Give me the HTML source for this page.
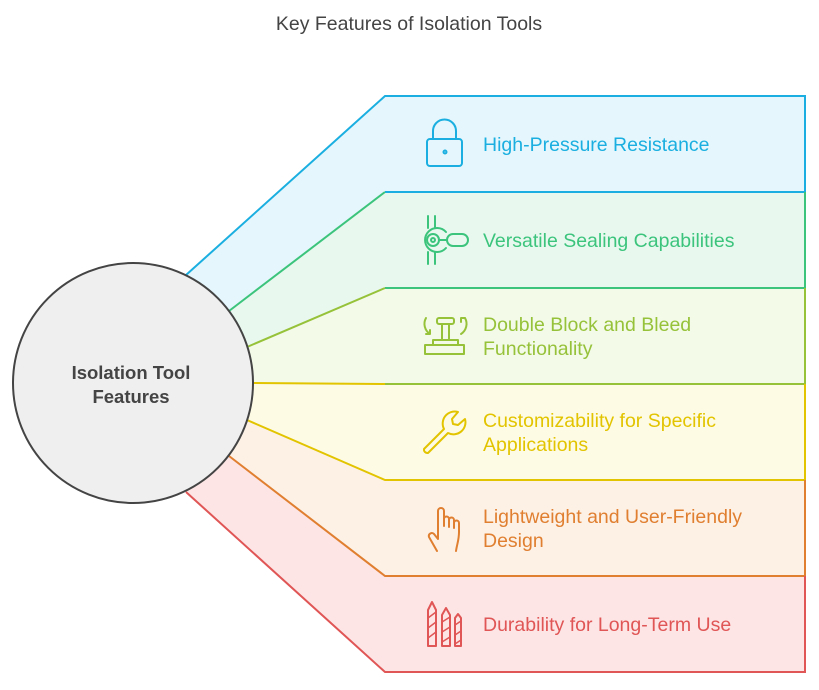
<!DOCTYPE html>
<html><head><meta charset="utf-8"><style>
html,body{margin:0;padding:0;background:#fff;}
svg text{font-family:"Liberation Sans",Arial,sans-serif;}
</style></head><body>
<svg width="819" height="685" viewBox="0 0 819 685" xmlns="http://www.w3.org/2000/svg">
<text x="409" y="30" text-anchor="middle" font-size="19.5" fill="#444">Key Features of Isolation Tools</text>
<g stroke="none">
<polygon points="133,383 229,456 385,576 805,576 805,672 385,672 186,492" fill="#FDE5E5"/>
<polygon points="133,383 247,420 385,480 805,480 805,576 385,576 229,456" fill="#FDF1E6"/>
<polygon points="133,383 253,383 385,384 805,384 805,480 385,480 247,420" fill="#FEFBE5"/>
<polygon points="133,383 247,347 385,288 805,288 805,384 385,384 253,383" fill="#F3FAE8"/>
<polygon points="133,383 229,311 385,192 805,192 805,288 385,288 247,347" fill="#E8F8EF"/>
<polygon points="133,383 186,275 385,96 805,96 805,192 385,192 229,311" fill="#E5F7FC"/>
</g>
<g stroke-width="2" fill="none">
<polyline points="186,275 385,96 805,96 805,192 385,192" stroke="#1AAFE0"/>
<polyline points="229,311 385,192 M805,192" stroke="#3CC47C"/>
<polyline points="805,192 805,288 385,288" stroke="#3CC47C"/>
<polyline points="247,347 385,288" stroke="#96C23A"/>
<polyline points="805,288 805,384 385,384" stroke="#96C23A"/>
<polyline points="253,383 385,384" stroke="#E2C400"/>
<polyline points="805,384 805,480 385,480 247,420" stroke="#E2C400"/>
<polyline points="805,480 805,576 385,576 229,456" stroke="#E07F30"/>
<polyline points="805,576 805,672 385,672 186,492" stroke="#E05555"/>
</g>
<circle cx="133" cy="383" r="120" fill="#EFEFEF" stroke="#444" stroke-width="2"/>
<text x="131" y="379" text-anchor="middle" font-size="18.5" font-weight="bold" fill="#444">Isolation Tool</text>
<text x="131" y="403" text-anchor="middle" font-size="18.5" font-weight="bold" fill="#444">Features</text>
<g font-size="19.5">
<text x="483" y="151" fill="#1AAFE0">High-Pressure Resistance</text>
<text x="483" y="247" fill="#3CC47C">Versatile Sealing Capabilities</text>
<text x="483" y="331" fill="#96C23A">Double Block and Bleed</text>
<text x="483" y="355" fill="#96C23A">Functionality</text>
<text x="483" y="427" fill="#E2C400">Customizability for Specific</text>
<text x="483" y="451" fill="#E2C400">Applications</text>
<text x="483" y="523" fill="#E07F30">Lightweight and User-Friendly</text>
<text x="483" y="547" fill="#E07F30">Design</text>
<text x="483" y="631" fill="#E05555">Durability for Long-Term Use</text>
</g>
<g fill="none" stroke-width="2" stroke-linecap="round" stroke-linejoin="round">
<g stroke="#1AAFE0"><rect x="427" y="139" width="35" height="27" rx="3"/><path d="M433,139 V131 a11.5,11.5 0 0 1 23,0 V139"/><circle cx="445" cy="152" r="1.5"/></g>
<g stroke="#3CC47C"><path d="M428,216 V228 M435,216 V228 M428,252 V264 M435,252 V264"/><path d="M446,232 a12,12 0 1 0 0,16"/><circle cx="433" cy="240" r="6"/><circle cx="433" cy="240" r="2"/><rect x="447" y="234" width="21" height="12" rx="6"/><path d="M439,240 H447"/></g>
<g stroke="#96C23A"><rect x="437" y="318" width="17" height="6" rx="2"/><path d="M442,324 V340 M449,324 V340"/><rect x="433" y="340" width="25" height="5"/><rect x="425" y="345" width="39" height="9"/><path d="M426,318 a12,12 0 0 0 4,16 M430,334 l-4,0 M430,334 l0,-4 M465,318 a12,12 0 0 1 -4,16 M461,318 l4,0 M461,318 l0,4"/></g>
<g stroke="#E2C400"><path d="M424,449 l20,-20 a12,12 0 0 1 14,-17 l-6,7 1,5 5,1 7,-6 a12,12 0 0 1 -17,14 l-20,20 a3.5,3.5 0 0 1 -4,-4 z"/></g>
<g stroke="#E07F30"><path d="M437,551 l-8,-14 a3,3 0 0 1 5,-3 l4,5 V511 a3,3 0 0 1 6,0 V523 M444,526 V519 a2.5,2.5 0 0 1 5,0 V527 M449,520 a2.5,2.5 0 0 1 5,0 V528 M454,523 a2.5,2.5 0 0 1 5,0 V532 c0,8 -2,12 -3,19"/></g>
<g stroke="#E05555"><path d="M428,646 V610 l4,-8 4,8 V646 z M442,646 V615 l4,-7 4,7 V646 z M455,646 V618 l3,-4 3,4 V646 z"/><path d="M428,618 l8,-6 M428,628 l8,-6 M428,638 l8,-6 M442,622 l8,-5 M442,632 l8,-5 M442,642 l8,-5 M455,625 l6,-4 M455,635 l6,-4 M455,644 l6,-4" stroke-width="1.5"/></g>
</g>
</svg>
</body></html>
